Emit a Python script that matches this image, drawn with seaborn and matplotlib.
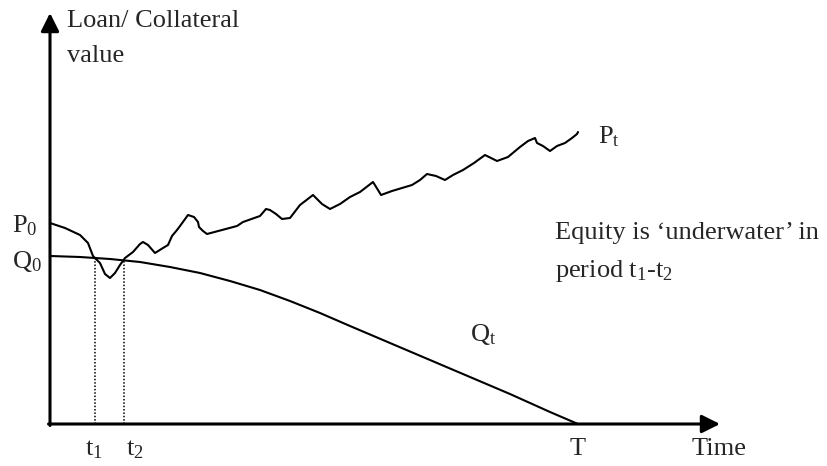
import numpy as np
import pandas as pd
import seaborn as sns
import matplotlib.pyplot as plt

sns.set_style('white')
plt.rcParams['font.family'] = ['Liberation Serif', 'DejaVu Serif']
plt.rcParams['mathtext.fontset'] = 'custom'
plt.rcParams['mathtext.rm'] = 'Liberation Serif'
plt.rcParams['mathtext.it'] = 'Liberation Serif:italic'

# collateral value P_t (time, value)
p_time = [0, 15, 30, 38, 43, 50, 55, 60, 65, 70, 75, 83, 90, 93, 98, 105, 113, 118,
          122, 127, 130, 138, 144, 148, 149, 153, 157, 172, 187, 193, 210, 216, 220,
          226, 232, 240, 250, 263, 272, 280, 290, 300, 310, 323, 328, 331, 342, 352,
          362, 370, 377, 386, 395, 403, 413, 424, 435, 441, 447, 458, 470, 478, 485,
          487, 493, 500, 507, 515, 522, 527, 528]
p_value = [201, 196, 189, 181, 168, 161, 150, 146, 151, 159, 166, 172, 180, 182, 179,
           171, 176, 179, 188, 194, 198, 209, 207, 202, 197, 193, 190, 194, 198, 202,
           208, 215, 214, 210, 205, 206, 219, 229, 220, 215, 220, 227, 232, 242, 234,
           229, 233, 236, 239, 244, 250, 248, 244, 249, 254, 261, 269, 266, 263, 267,
           277, 283, 286, 281, 278, 273, 278, 281, 286, 290, 292]

# loan balance Q_t
q_time = [0, 30, 60, 90, 120, 150, 180, 210, 240, 270, 300, 340, 380, 420, 460, 500, 528]
q_value = [168, 167, 165, 162, 157, 151, 143, 134, 123, 111, 98, 81, 64, 47, 30, 12, 0]

t1, t2, T = 45, 74, 528
q_at_t = [166, 164]

fig = plt.figure(figsize=(8.27, 4.66), dpi=100)
ax = fig.add_axes([0, 0, 1, 1])

sns.lineplot(x=p_time, y=p_value, sort=False, color='black', lw=1.5, ax=ax)
sns.lineplot(x=q_time, y=q_value, sort=False, color='black', lw=1.5, ax=ax)

for tt, qq in zip([t1, t2], q_at_t):
    ax.plot([tt, tt], [0, qq], color='black', lw=1.1, ls=(0, (1, 1.2)))

# axes with arrow heads
arrow = dict(arrowstyle='-|>,head_length=1.1,head_width=0.55', color='black',
             lw=2.2, shrinkA=0, shrinkB=0, mutation_scale=10)
ax.annotate('', xy=(0, 411), xytext=(0, -1.5), arrowprops=arrow)
ax.annotate('', xy=(670, 0), xytext=(-1.5, 0), arrowprops=arrow)

fs = 19
ax.text(17, 397, 'Loan/ Collateral', fontsize=fs, va='baseline')
ax.text(17, 362, 'value', fontsize=fs, va='baseline')
ax.text(-38, 192, r'$\mathrm{P}_0$', fontsize=fs, va='baseline')
ax.text(-38, 156, r'$\mathrm{Q}_0$', fontsize=fs, va='baseline')
ax.text(548, 281, r'$\mathrm{P}_\mathrm{t}$', fontsize=fs, va='baseline')
ax.text(420, 83, r'$\mathrm{Q}_\mathrm{t}$', fontsize=fs, va='baseline')
ax.text(505, 185, 'Equity is \u2018underwater\u2019 in', fontsize=fs, va='baseline')
ax.text(505, 147, r'period $\mathrm{t}_1$-$\mathrm{t}_2$', fontsize=fs, va='baseline')
ax.text(35, -31, r'$\mathrm{t}_1$', fontsize=fs, va='baseline')
ax.text(76, -31, r'$\mathrm{t}_2$', fontsize=fs, va='baseline')
ax.text(T, -31, 'T', fontsize=fs, va='baseline', ha='center')
ax.text(642, -31, 'Time', fontsize=fs, va='baseline')

ax.set_xlim(-50, 777)
ax.set_ylim(-42, 424)
ax.axis('off')

fig.savefig('out.png', dpi=100)
